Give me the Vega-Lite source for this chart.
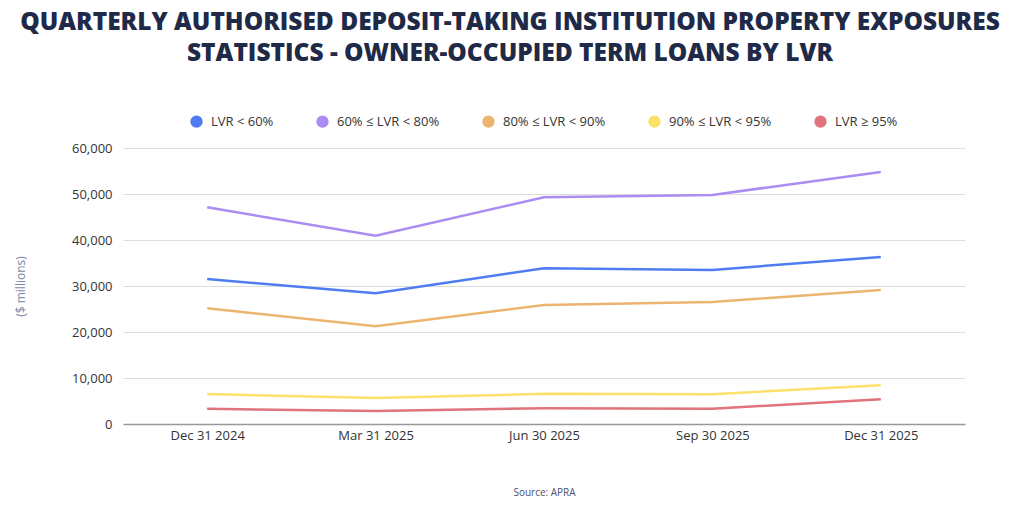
{
  "$schema": "https://vega.github.io/schema/vega-lite/v6.json",
  "width": 842,
  "height": 276,
  "padding": {"left": 14, "top": 9, "right": 10, "bottom": 10},
  "background": "white",
  "title": {
    "text": ["QUARTERLY AUTHORISED DEPOSIT-TAKING INSTITUTION PROPERTY EXPOSURES", "STATISTICS - OWNER-OCCUPIED TERM LOANS BY LVR"],
    "anchor": "middle",
    "frame": "group",
    "dx": -34,
    "font": "Open Sans",
    "fontSize": 24.5,
    "fontWeight": 800,
    "color": "#1f2a48",
    "lineHeight": 31,
    "offset": 49
  },
  "data": {
    "values": [
      {"quarter": "Dec 31 2024", "series": "LVR < 60%", "value": 31500},
      {"quarter": "Mar 31 2025", "series": "LVR < 60%", "value": 28450},
      {"quarter": "Jun 30 2025", "series": "LVR < 60%", "value": 33850},
      {"quarter": "Sep 30 2025", "series": "LVR < 60%", "value": 33500},
      {"quarter": "Dec 31 2025", "series": "LVR < 60%", "value": 36300},
      {"quarter": "Dec 31 2024", "series": "60% ≤ LVR < 80%", "value": 47100},
      {"quarter": "Mar 31 2025", "series": "60% ≤ LVR < 80%", "value": 40950},
      {"quarter": "Jun 30 2025", "series": "60% ≤ LVR < 80%", "value": 49300},
      {"quarter": "Sep 30 2025", "series": "60% ≤ LVR < 80%", "value": 49800},
      {"quarter": "Dec 31 2025", "series": "60% ≤ LVR < 80%", "value": 54800},
      {"quarter": "Dec 31 2024", "series": "80% ≤ LVR < 90%", "value": 25150},
      {"quarter": "Mar 31 2025", "series": "80% ≤ LVR < 90%", "value": 21250},
      {"quarter": "Jun 30 2025", "series": "80% ≤ LVR < 90%", "value": 25850},
      {"quarter": "Sep 30 2025", "series": "80% ≤ LVR < 90%", "value": 26500},
      {"quarter": "Dec 31 2025", "series": "80% ≤ LVR < 90%", "value": 29150},
      {"quarter": "Dec 31 2024", "series": "90% ≤ LVR < 95%", "value": 6500},
      {"quarter": "Mar 31 2025", "series": "90% ≤ LVR < 95%", "value": 5650},
      {"quarter": "Jun 30 2025", "series": "90% ≤ LVR < 95%", "value": 6550},
      {"quarter": "Sep 30 2025", "series": "90% ≤ LVR < 95%", "value": 6450},
      {"quarter": "Dec 31 2025", "series": "90% ≤ LVR < 95%", "value": 8450},
      {"quarter": "Dec 31 2024", "series": "LVR ≥ 95%", "value": 3300},
      {"quarter": "Mar 31 2025", "series": "LVR ≥ 95%", "value": 2800},
      {"quarter": "Jun 30 2025", "series": "LVR ≥ 95%", "value": 3450},
      {"quarter": "Sep 30 2025", "series": "LVR ≥ 95%", "value": 3300},
      {"quarter": "Dec 31 2025", "series": "LVR ≥ 95%", "value": 5400}
    ]
  },
  "mark": {"type": "line", "strokeWidth": 2.5, "interpolate": "linear"},
  "encoding": {
    "x": {
      "field": "quarter",
      "type": "ordinal",
      "sort": null,
      "scale": {"type": "point", "padding": 0.5},
      "axis": {
        "title": "Source: APRA",
        "titleFont": "Open Sans",
        "titleFontSize": 10,
        "titleFontWeight": "normal",
        "titleColor": "#4a5570",
        "titlePadding": 45,
        "labelAngle": 0,
        "labelFont": "Open Sans",
        "labelFontSize": 13,
        "labelColor": "#333333",
        "labelPadding": 5,
        "ticks": false,
        "domainColor": "#999999",
        "domainWidth": 1.5,
        "grid": false
      }
    },
    "y": {
      "field": "value",
      "type": "quantitative",
      "scale": {"domain": [0, 60000]},
      "axis": {
        "title": "($ millions)",
        "titleFont": "Open Sans",
        "titleFontSize": 12,
        "titleFontWeight": "normal",
        "titleColor": "#7b86a6",
        "titlePadding": 44,
        "values": [0, 10000, 20000, 30000, 40000, 50000, 60000],
        "format": ",.0f",
        "labelFont": "Open Sans",
        "labelFontSize": 13,
        "labelColor": "#333333",
        "labelPadding": 11,
        "ticks": false,
        "domain": false,
        "gridColor": "#dddddd",
        "gridWidth": 1.2
      }
    },
    "color": {
      "field": "series",
      "type": "nominal",
      "sort": ["LVR < 60%", "60% ≤ LVR < 80%", "80% ≤ LVR < 90%", "90% ≤ LVR < 95%", "LVR ≥ 95%"],
      "scale": {
        "domain": ["LVR < 60%", "60% ≤ LVR < 80%", "80% ≤ LVR < 90%", "90% ≤ LVR < 95%", "LVR ≥ 95%"],
        "range": ["#4f7cf2", "#aa8cf2", "#ebb570", "#fde06a", "#e0737b"]
      },
      "legend": {
        "title": null,
        "orient": "top",
        "direction": "horizontal",
        "symbolType": "circle",
        "symbolSize": 40,
        "symbolStrokeWidth": 6,
        "symbolOpacity": 1,
        "labelFont": "Open Sans",
        "labelFontSize": 13,
        "labelColor": "#333333",
        "labelOffset": 8,
        "columnPadding": 33,
        "offset": 11
      }
    }
  },
  "config": {
    "view": {"stroke": null},
    "legend": {"layout": {"top": {"anchor": "middle"}}}
  }
}
